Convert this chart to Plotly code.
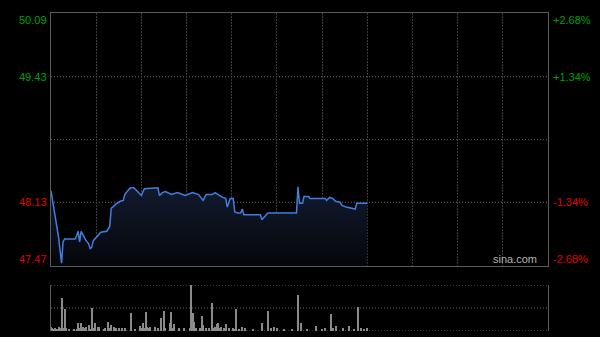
import plotly.graph_objects as go

# ---- data ----
price_minutes = [0,4,5,7,8,9,16,17,18,19,20,23,25,26,27,28,31,33,37,39,
                 40,41,43,46,48,49,52,53,55,57,60,62,71,72,74,76,80,84,89,94,
                 98,101,103,107,109,111,114,116,117,119,121,122,124,126,127,128,139,140,142,144,
                 163,164,165,167,168,171,172,182,183,185,187,189,192,193,196,199,200,202,203,210]
price_values = [48.25,47.86,47.77,47.50,47.72,47.75,47.75,47.78,47.83,47.72,
                47.83,47.74,47.70,47.65,47.66,47.73,47.78,47.82,47.83,47.88,
                48.07,48.08,48.11,48.14,48.15,48.21,48.27,48.28,48.28,48.25,
                48.20,48.27,48.28,48.20,48.23,48.24,48.21,48.23,48.20,48.23,
                48.21,48.15,48.21,48.21,48.23,48.21,48.18,48.17,48.08,48.17,
                48.17,48.03,48.02,48.02,48.06,48.00,48.00,47.95,47.99,48.02,
                48.02,48.29,48.12,48.12,48.19,48.19,48.17,48.17,48.15,48.18,
                48.17,48.14,48.13,48.10,48.08,48.07,48.06,48.06,48.12,48.12]

vol_minutes = [0,1,2,3,4,5,6,7,8,9,10,12,15,17,18,19,20,21,22,23,25,26,27,28,29,31,32,35,36,38,39,40,42,43,45,47,49,
               53,56,59,60,61,62,63,64,65,66,69,71,73,75,76,79,80,81,82,85,88,92,93,94,95,96,99,100,101,103,105,
               107,108,109,110,111,112,113,115,116,118,121,122,123,125,127,129,134,140,144,146,148,150,155,160,
               164,166,170,176,180,182,186,187,189,194,198,201,204,206,208,210]
vol_values = [4,3,2,3,2,4,3,33,3,22,3,2,2,2,8.5,3,8,4,3,4,6,2,23,3,8,4,4,2,3,9,3,6,4,3,3,3,3,
              18.5,2,5,3,8,3,19,4,3,4,4,3,12.7,20.3,3,8,19.3,3,7,3,3,3,46,18.5,9,3,3,15.3,6,3,3,
              28.3,3,4,7,8,3,4,3,6.7,3,3,2,22,2,4.3,3,2,7.7,20.3,3,4,3,2,2,
              36,7.7,2,5,2,3,17,3,5,3,5.3,2,24.3,3,2,3]

left_labels = ["50.09", "49.43", "48.13", "47.47"]
right_labels = ["+2.68%", "+1.34%", "-1.34%", "-2.68%"]
prev_close = 48.78
session_minutes = 330
grid_minutes = [30,60,90,120,150,180,210,240,270,300]

y_levels = [float(v) for v in left_labels]
y_top, y_bot = y_levels[0], y_levels[-1]

GREEN = "#00a000"
RED = "#e00000"
FONT = "Liberation Sans, Arial, sans-serif"

fig = go.Figure()

# baseline for fill
fig.add_trace(go.Scatter(x=[price_minutes[0], price_minutes[-1]], y=[y_bot, y_bot],
                         mode="lines", line=dict(width=0), hoverinfo="skip",
                         showlegend=False, xaxis="x", yaxis="y"))
fig.add_trace(go.Scatter(x=price_minutes, y=price_values, mode="lines",
                         line=dict(color="#3f7fe0", width=1.5),
                         fill="tonexty",
                         fillgradient=dict(type="vertical",
                                           colorscale=[[0, "rgba(5,6,10,1)"], [1, "rgba(18,26,46,1)"]]),
                         hoverinfo="skip", showlegend=False, xaxis="x", yaxis="y"))

fig.add_trace(go.Bar(x=vol_minutes, y=vol_values, marker=dict(color="#8a8a8a", line=dict(width=0)),
                     width=0.7, hoverinfo="skip", showlegend=False, xaxis="x2", yaxis="y2"))

W, H = 600, 337
xl, xr = 51 / W, 548 / W
main_top, main_bot = 1 - 13 / H, 1 - 266 / H
vol_top, vol_bot = 1 - 285 / H, 1 - 331 / H

fig.update_layout(
    width=W, height=H, margin=dict(l=0, r=0, t=0, b=0),
    paper_bgcolor="#000000", plot_bgcolor="#000000",
    bargap=0,
    xaxis=dict(domain=[xl, xr], range=[0, session_minutes], tickvals=grid_minutes,
               showticklabels=False, showgrid=True, gridcolor="#3c3c3c", griddash="2px,1px",
               gridwidth=1, zeroline=False, showline=True, linecolor="#5a5a5a", linewidth=1,
               mirror=True, ticks="", fixedrange=True),
    yaxis=dict(domain=[main_bot, main_top], range=[y_bot, y_top], showticklabels=False,
               showgrid=False, zeroline=False, showline=True, linecolor="#5a5a5a",
               linewidth=1, mirror=True, ticks="", fixedrange=True),
    xaxis2=dict(domain=[xl, xr], range=[0, session_minutes], showticklabels=False,
                showgrid=False, zeroline=False, showline=False, ticks="", anchor="y2",
                fixedrange=True),
    yaxis2=dict(domain=[vol_bot, vol_top], range=[0, max(vol_values)], showticklabels=False,
                showgrid=False, zeroline=False, showline=True, linecolor="#5a5a5a",
                linewidth=1, mirror=True, ticks="", anchor="x2", fixedrange=True),
)

shapes = []
# main horizontal dotted grid
for lv, col in [(y_levels[1], "#6e6e6e"), (prev_close, "#5a5a5a"), (y_levels[2], "#6e6e6e")]:
    shapes.append(dict(type="line", xref="x domain", yref="y", x0=0, x1=1, y0=lv, y1=lv,
                       line=dict(color=col, width=1, dash="1px,2px"), layer="below"))
# volume panel dotted lines
vmax = max(vol_values)
for lv in [0, vmax / 2, vmax]:
    shapes.append(dict(type="line", xref="x2 domain", yref="y2", x0=0, x1=1, y0=lv, y1=lv,
                       line=dict(color="#6e6e6e", width=1, dash="1px,2px"), layer="below"))
fig.update_layout(shapes=shapes)

annos = []
anchors = ["top", "middle", "middle", "bottom"]
colors = [GREEN, GREEN, RED, RED]
for lab, rlab, lv, anc, col in zip(left_labels, right_labels, y_levels, anchors, colors):
    annos.append(dict(x=48 / W, xref="paper", y=lv, yref="y", text=lab, showarrow=False,
                      xanchor="right", yanchor=anc, font=dict(family=FONT, size=11, color=col),
                      borderpad=0))
    annos.append(dict(x=552 / W, xref="paper", y=lv, yref="y", text=rlab, showarrow=False,
                      xanchor="left", yanchor=anc, font=dict(family=FONT, size=11, color=col),
                      borderpad=0))
annos.append(dict(x=538 / W, xref="paper", y=y_bot, yref="y", text="sina.com", showarrow=False,
                  xanchor="right", yanchor="bottom", font=dict(family=FONT, size=11, color="#b4b4b4"),
                  borderpad=0))
fig.update_layout(annotations=annos)

fig.write_html("out.html", config={"displayModeBar": False})
